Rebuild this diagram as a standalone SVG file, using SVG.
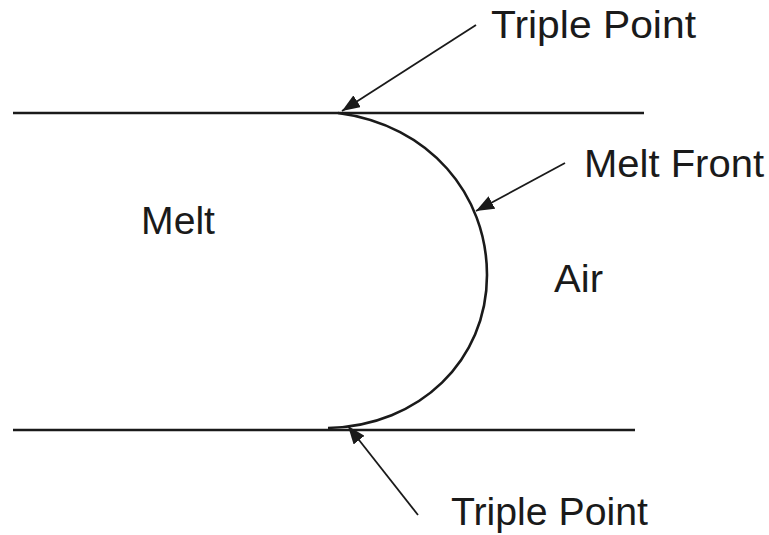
<svg xmlns="http://www.w3.org/2000/svg" width="769" height="535" viewBox="0 0 769 535">
<style>
.ln{stroke:#1a1a1a;stroke-width:2.6;fill:none}
.ar{stroke:#1a1a1a;stroke-width:1.8;fill:none}
text{font-family:"Liberation Sans",Arial,sans-serif;font-size:38px;fill:#1a1a1a}
</style>
<defs>
<marker id="ah" viewBox="0 0 10 10" refX="10" refY="5" markerWidth="18" markerHeight="14" markerUnits="userSpaceOnUse" orient="auto" preserveAspectRatio="none">
<path d="M0,0 L10,5 L0,10 Z" fill="#1a1a1a"/>
</marker>
</defs>
<rect width="769" height="535" fill="#fff"/>
<g id="walls">
<line class="ln" x1="13" y1="113" x2="644" y2="113"/>
<line class="ln" x1="13" y1="430" x2="635" y2="430"/>
</g>
<g id="melt-front-curve">
<path class="ln" d="M338,113 C430,125 487,195 487,275 C487,360 420,426 328,428"/>
</g>
<g id="connectors">
<line class="ar" x1="476" y1="25" x2="342" y2="111" marker-end="url(#ah)"/>
<line class="ar" x1="565" y1="163" x2="476" y2="211" marker-end="url(#ah)"/>
<line class="ar" x1="418" y1="515" x2="348" y2="426" marker-end="url(#ah)"/>
</g>
<g id="label-triple-top"><text x="491" y="38" textLength="205" lengthAdjust="spacingAndGlyphs">Triple Point</text></g>
<g id="label-melt-front"><text x="584" y="177" textLength="180" lengthAdjust="spacingAndGlyphs">Melt Front</text></g>
<g id="label-melt"><text x="141" y="234" textLength="74" lengthAdjust="spacingAndGlyphs">Melt</text></g>
<g id="label-air"><text x="554" y="292" textLength="49" lengthAdjust="spacingAndGlyphs">Air</text></g>
<g id="label-triple-bottom"><text x="451" y="525" textLength="197" lengthAdjust="spacingAndGlyphs">Triple Point</text></g>
</svg>
